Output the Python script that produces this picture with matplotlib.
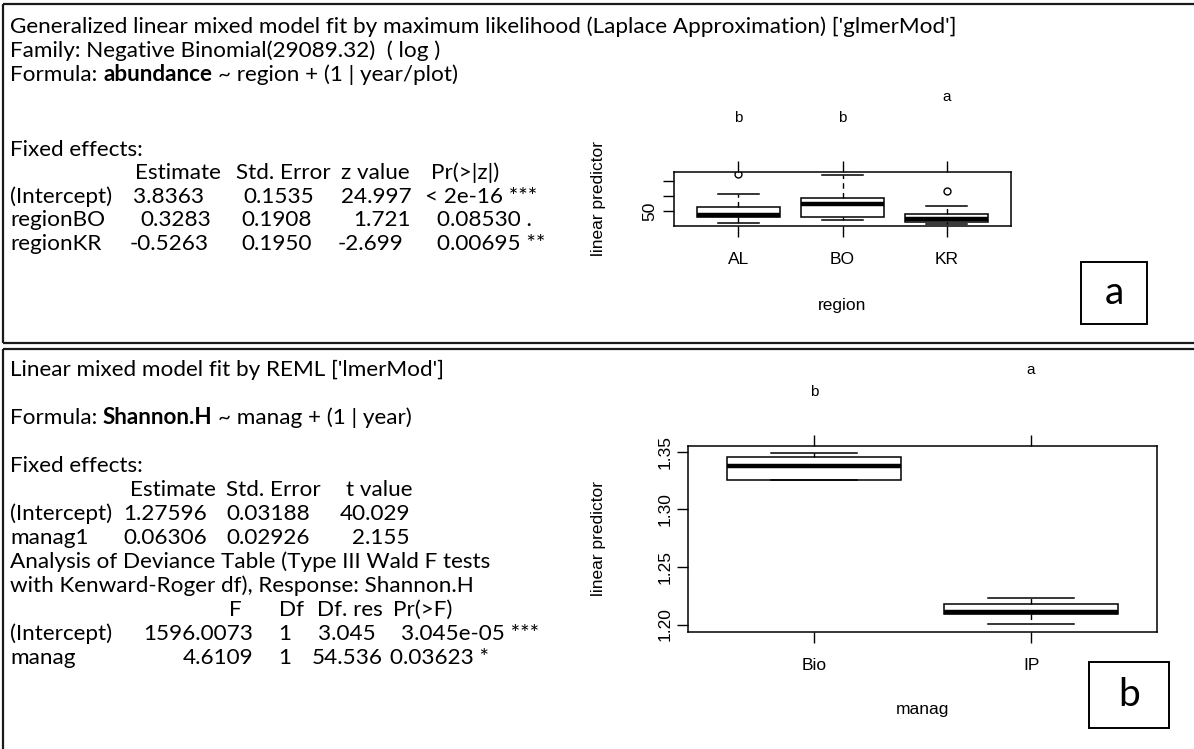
import matplotlib
matplotlib.use("Agg")
import matplotlib.pyplot as plt
import matplotlib.transforms as mtransforms
from matplotlib.patches import Rectangle

W, H, DPI = 1194, 749, 100
TEXT_FONT = ["Lato", "DejaVu Sans"]
PLOT_FONT = ["Liberation Sans", "DejaVu Sans"]

# ---------------- data: panel a (text) ----------------
title_a = "Generalized linear mixed model fit by maximum likelihood (Laplace Approximation) ['glmerMod']"
family_a = "Family: Negative Binomial(29089.32)  ( log )"
formula_a = ["Formula:", "abundance", "~ region + (1 | year/plot)"]
fixed_label = "Fixed effects:"
cols_a = ["Estimate", "Std. Error", "z value", "Pr(>|z|)"]
rows_a = ["(Intercept)", "regionBO", "regionKR"]
vals_a = [["3.8363", "0.1535", "24.997", "< 2e-16 ***"],
          ["0.3283", "0.1908", "1.721", "0.08530 ."],
          ["-0.5263", "0.1950", "-2.699", "0.00695 **"]]

# ---------------- data: panel b (text) ----------------
title_b = "Linear mixed model fit by REML ['lmerMod']"
formula_b = ["Formula:", "Shannon.H", "~ manag + (1 | year)"]
cols_b = ["Estimate", "Std. Error", "t value"]
rows_b = ["(Intercept)", "manag1"]
vals_b = [["1.27596", "0.03188", "40.029"],
          ["0.06306", "0.02926", "2.155"]]
anova_title = ["Analysis of Deviance Table (Type III Wald F tests",
               "with Kenward-Roger df), Response: Shannon.H"]
anova_cols = ["F", "Df", "Df. res", "Pr(>F)"]
anova_rows = ["(Intercept)", "manag"]
anova_vals = [["1596.0073", "1", "3.045", "3.045e-05 ***"],
              ["4.6109", "1", "54.536", "0.03623 *"]]

# ---------------- data: boxplot a ----------------
regions = ["AL", "BO", "KR"]
reg_whislo = [42.8, 44.6, 41.9]
reg_q1 = [46.1, 46.1, 43.4]
reg_med = [47.6, 54.8, 45.0]
reg_q3 = [52.8, 58.4, 48.3]
reg_whishi = [61.0, 73.6, 53.7]
reg_fliers = [[74.1], [], [63.5]]
reg_letters = ["b", "b", "a"]
reg_yticks = [50, 60, 70]
reg_yticklabels = ["50", "", ""]

# ---------------- data: boxplot b ----------------
manag = ["Bio", "IP"]
man_whislo = [1.3256, 1.2001]
man_q1 = [1.3256, 1.2095]
man_med = [1.3379, 1.2112]
man_q3 = [1.3453, 1.2182]
man_whishi = [1.3488, 1.2231]
man_fliers = [[], []]
man_letters = ["b", "a"]
man_yticks = [1.20, 1.25, 1.30, 1.35]
man_yticklabels = ["1.20", "1.25", "1.30", "1.35"]

# ---------------- layout (pixel positions, (x, ha)) ----------------
TX = 10
ya_lines = [26, 50, 74]
ya_fixed = 149
ya_head = 172
ya_rows = [196, 219, 243]
xa_cols = [(135, "left"), (236, "left"), (341, "left"), (431, "left")]
xa_vals = [[(133, "left"), (243, "left"), (341, "left"), (425, "left")],
           [(140, "left"), (241, "left"), (353, "left"), (437, "left")],
           [(130, "left"), (241, "left"), (338, "left"), (437, "left")]]

yb_title, yb_formula, yb_fixed, yb_head = 369, 417, 465, 489
yb_rows = [513, 537]
yb_anova = [561, 585]
yb_ahead = 609
yb_arows = [633, 657]
xb_cols = [(130, "left"), (226, "left"), (346, "left")]
xb_vals = [[(207, "right"), (310, "right"), (410, "right")],
           [(207, "right"), (310, "right"), (410, "right")]]
xb_acols = [(242, "right"), (304, "right"), (383, "right"), (393, "left")]
xb_avals = [[(253, "right"), (291, "right"), (376, "right"), (401, "left")],
            [(253, "right"), (291, "right"), (383, "right"), (390, "left")]]

fig = plt.figure(figsize=(W / DPI, H / DPI), dpi=DPI)
fig.patch.set_facecolor("white")
bg = fig.add_axes([0, 0, 1, 1])
bg.set_xlim(0, W)
bg.set_ylim(H, 0)
bg.axis("off")

# panel frames
fkw = dict(color="#1a1a1a", lw=1.6, solid_capstyle="butt", clip_on=False)
bg.plot([3, W], [4, 4], **fkw)
bg.plot([3, 3], [4, 343], **fkw)
bg.plot([3, W], [343, 343], **fkw)
bg.plot([3, W], [349, 349], **fkw)
bg.plot([3, 3], [349, H], **fkw)

renderer = fig.canvas.get_renderer()
probe = bg.text(0, 0, title_a, fontsize=10, family=TEXT_FONT)
fs = 10 * 945 / probe.get_window_extent(renderer).width
probe.remove()
em = fs * DPI / 72.0
sp = bg.text(0, 0, "a a", fontsize=fs, family=TEXT_FONT)
sp2 = bg.text(0, 0, "aa", fontsize=fs, family=TEXT_FONT)
space_w = sp.get_window_extent(renderer).width - sp2.get_window_extent(renderer).width
sp.remove(); sp2.remove()


def put(x, yc, s, weight="normal", ha="left"):
    return bg.text(x, yc + 0.32 * em, s, fontsize=fs, family=TEXT_FONT,
                   fontweight=weight, va="baseline", ha=ha, color="black")


def put_parts(x, yc, parts, weights):
    for s, wgt in zip(parts, weights):
        t = put(x, yc, s, wgt)
        x += t.get_window_extent(renderer).width + space_w


def put_row(y, label, cells, places):
    if label is not None:
        put(TX, y, label)
    for s, (x, ha) in zip(cells, places):
        put(x, y, s, ha=ha)


# panel a text
put(TX, ya_lines[0], title_a)
put(TX, ya_lines[1], family_a)
put_parts(TX, ya_lines[2], formula_a, ["normal", "bold", "normal"])
put(TX, ya_fixed, fixed_label)
put_row(ya_head, None, cols_a, xa_cols)
for r, vals, xs, y in zip(rows_a, vals_a, xa_vals, ya_rows):
    put_row(y, r, vals, xs)

# panel b text
put(TX, yb_title, title_b)
put_parts(TX, yb_formula, formula_b, ["normal", "bold", "normal"])
put(TX, yb_fixed, fixed_label)
put_row(yb_head, None, cols_b, xb_cols)
for r, vals, xs, y in zip(rows_b, vals_b, xb_vals, yb_rows):
    put_row(y, r, vals, xs)
for s, y in zip(anova_title, yb_anova):
    put(TX, y, s)
put_row(yb_ahead, None, anova_cols, xb_acols)
for r, vals, xs, y in zip(anova_rows, anova_vals, xb_avals, yb_arows):
    put_row(y, r, vals, xs)

# boxed panel tags
for (x0, y0, w, h, lab) in [(1081, 262, 66, 62, "a"), (1089, 662, 80, 66, "b")]:
    bg.add_patch(Rectangle((x0, y0), w, h, fill=False, ec="black", lw=1.4))
    bg.text(x0 + w / 2, y0 + h / 2, lab, fontsize=28, family=TEXT_FONT,
            ha="center", va="center", color="black")


def boxpanel(rect, names, lo, q1, med, q3, hi, fliers, xlim, ylim, yticks, ytl,
             letters, letter_y, xlabel, ylab_x, xlab_y, ypad):
    l, b, w, h = rect
    ax = fig.add_axes([l / W, 1 - b / H, w / W, h / H])
    stats = [dict(label=n, whislo=a, q1=c, med=m, q3=d, whishi=e, fliers=f)
             for n, a, c, m, d, e, f in zip(names, lo, q1, med, q3, hi, fliers)]
    pos = list(range(1, len(names) + 1))
    ax.bxp(stats, positions=pos, widths=0.8, capwidths=0.4, patch_artist=True,
           showfliers=True,
           boxprops=dict(facecolor="white", edgecolor="black", linewidth=1.1),
           medianprops=dict(color="black", linewidth=3.2, solid_capstyle="butt"),
           whiskerprops=dict(color="black", linewidth=1.0, linestyle=(0, (4, 3))),
           capprops=dict(color="black", linewidth=1.1),
           flierprops=dict(marker="o", markerfacecolor="none",
                           markeredgecolor="black", markersize=5, markeredgewidth=1.0))
    ax.set_xlim(*xlim)
    ax.set_ylim(*ylim)
    ax.set_xticks(pos)
    ax.set_xticklabels(names, family=PLOT_FONT, fontsize=12.5)
    ax.set_yticks(yticks)
    ax.set_yticklabels(ytl, family=PLOT_FONT, fontsize=12.5, rotation=90, va="center")
    ax.tick_params(axis="x", top=True, bottom=True, direction="out", length=7.9,
                   width=1.0, pad=11, color="black")
    ax.tick_params(axis="y", direction="out", length=7.9, width=1.0, pad=ypad, color="black")
    for s in ax.spines.values():
        s.set_linewidth(1.1)
        s.set_color("black")
    ax.set_xlabel(xlabel, family=PLOT_FONT, fontsize=12.5)
    ax.xaxis.set_label_coords(0.5, xlab_y)
    ax.xaxis.label.set_va("center")
    ax.set_ylabel("linear predictor", family=PLOT_FONT, fontsize=12.5)
    ax.yaxis.set_label_coords(ylab_x, 0.5)
    ax.yaxis.label.set_va("center")
    tr = mtransforms.blended_transform_factory(ax.transData, ax.transAxes)
    for p, let, ly in zip(pos, letters, letter_y):
        ax.text(p, ly, let, transform=tr, ha="center", va="center",
                family=PLOT_FONT, fontsize=11, clip_on=False)
    return ax


boxpanel((674, 226, 337, 54), regions, reg_whislo, reg_q1, reg_med, reg_q3, reg_whishi,
         reg_fliers, (0.38, 3.62), (40.6, 75.5), reg_yticks, reg_yticklabels,
         reg_letters, [2.0, 2.0, 2.39], "region", -0.2255, -1.48, 4)

boxpanel((688, 632, 469, 186), manag, man_whislo, man_q1, man_med, man_q3, man_whishi,
         man_fliers, (0.42, 2.58), (1.1935, 1.3552), man_yticks, man_yticklabels,
         man_letters, [1.29, 1.409], "manag", -0.19, -0.419, 3)

fig.savefig("out.png", dpi=DPI, facecolor="white")
